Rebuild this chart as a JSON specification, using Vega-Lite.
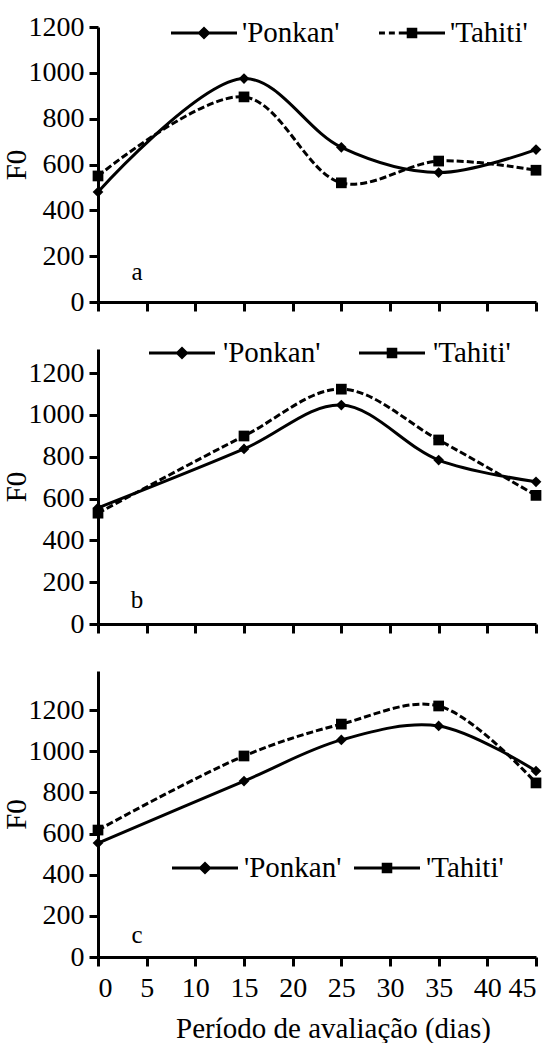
{
  "$schema": "https://vega.github.io/schema/vega-lite/v6.json",
  "padding": {"left": 2, "top": 0, "right": 0, "bottom": 0},
  "background": "white",
  "bounds": "flush",
  "spacing": 47,
  "resolve": {"scale": {"shape": "independent"}, "legend": {"shape": "independent"}},
  "datasets": {
    "d": [
      {"panel": "a", "variety": "'Ponkan'", "day": 0, "f0": 480},
      {"panel": "a", "variety": "'Ponkan'", "day": 15, "f0": 975},
      {"panel": "a", "variety": "'Ponkan'", "day": 25, "f0": 675},
      {"panel": "a", "variety": "'Ponkan'", "day": 35, "f0": 565},
      {"panel": "a", "variety": "'Ponkan'", "day": 45, "f0": 665},
      {"panel": "a", "variety": "'Tahiti'", "day": 0, "f0": 550},
      {"panel": "a", "variety": "'Tahiti'", "day": 15, "f0": 895},
      {"panel": "a", "variety": "'Tahiti'", "day": 25, "f0": 520},
      {"panel": "a", "variety": "'Tahiti'", "day": 35, "f0": 615},
      {"panel": "a", "variety": "'Tahiti'", "day": 45, "f0": 575},
      {"panel": "b", "variety": "'Ponkan'", "day": 0, "f0": 555},
      {"panel": "b", "variety": "'Ponkan'", "day": 15, "f0": 837},
      {"panel": "b", "variety": "'Ponkan'", "day": 25, "f0": 1047},
      {"panel": "b", "variety": "'Ponkan'", "day": 35, "f0": 784},
      {"panel": "b", "variety": "'Ponkan'", "day": 45, "f0": 680},
      {"panel": "b", "variety": "'Tahiti'", "day": 0, "f0": 530},
      {"panel": "b", "variety": "'Tahiti'", "day": 15, "f0": 899},
      {"panel": "b", "variety": "'Tahiti'", "day": 25, "f0": 1123},
      {"panel": "b", "variety": "'Tahiti'", "day": 35, "f0": 880},
      {"panel": "b", "variety": "'Tahiti'", "day": 45, "f0": 615},
      {"panel": "c", "variety": "'Ponkan'", "day": 0, "f0": 554},
      {"panel": "c", "variety": "'Ponkan'", "day": 15, "f0": 855},
      {"panel": "c", "variety": "'Ponkan'", "day": 25, "f0": 1055},
      {"panel": "c", "variety": "'Ponkan'", "day": 35, "f0": 1123},
      {"panel": "c", "variety": "'Ponkan'", "day": 45, "f0": 904},
      {"panel": "c", "variety": "'Tahiti'", "day": 0, "f0": 617},
      {"panel": "c", "variety": "'Tahiti'", "day": 15, "f0": 977},
      {"panel": "c", "variety": "'Tahiti'", "day": 25, "f0": 1132},
      {"panel": "c", "variety": "'Tahiti'", "day": 35, "f0": 1220},
      {"panel": "c", "variety": "'Tahiti'", "day": 45, "f0": 846}
    ],
    "lab": [
      {"panel": "a", "label": "a", "day": 4, "f0": 130},
      {"panel": "b", "label": "b", "day": 4, "f0": 115},
      {"panel": "c", "label": "c", "day": 4, "f0": 107}
    ]
  },
  "config": {
    "view": {"stroke": null},
    "font": "Liberation Serif",
    "axis": {
      "domainColor": "black", "domainWidth": 3, "tickColor": "black", "tickWidth": 3, "tickSize": 9,
      "grid": false, "labelFont": "Liberation Serif", "labelFontSize": 28, "labelColor": "black",
      "titleFont": "Liberation Serif", "titleFontSize": 29, "titleFontWeight": "normal", "titleColor": "black",
      "format": "d"
    },
    "legend": {
      "labelFont": "Liberation Serif", "labelFontSize": 29, "labelColor": "black",
      "symbolSize": 4356, "direction": "horizontal", "padding": 0, "orient": "none",
      "symbolFillColor": "black", "symbolStrokeWidth": 0, "symbolOpacity": 1
    }
  },
  "vconcat": [
    {
      "width": 438, "height": 275,
      "resolve": {"scale": {"shape": "independent"}},
      "layer": [
        {
          "data": {"name": "d"}, "transform": [{"filter": "datum.panel == 'a' && datum.variety == \"'Ponkan'\""}],
          "mark": {"type": "line", "interpolate": "catmull-rom", "color": "black", "strokeWidth": 3},
          "encoding": {
            "x": {"field": "day", "type": "quantitative", "scale": {"domain": [0, 45], "nice": false}, "axis": {"values": [0,5,10,15,20,25,30,35,40,45], "labels": false, "title": null}},
            "y": {"field": "f0", "type": "quantitative", "scale": {"domain": [0, 1200], "nice": false}, "axis": {"values": [0,200,400,600,800,1000,1200], "title": "F0", "labelPadding": 5, "titlePadding": -3}}
          }
        },
        {
          "data": {"name": "d"}, "transform": [{"filter": "datum.panel == 'a' && datum.variety == \"'Tahiti'\""}],
          "mark": {"type": "line", "interpolate": "catmull-rom", "color": "black", "strokeWidth": 3, "strokeDash": [7, 3]},
          "encoding": {"x": {"field": "day", "type": "quantitative"}, "y": {"field": "f0", "type": "quantitative"}}
        },
        {
          "data": {"name": "d"}, "transform": [{"filter": "datum.panel == 'a'"}],
          "mark": {"type": "point", "filled": true, "color": "black", "opacity": 1, "size": 115},
          "encoding": {
            "x": {"field": "day", "type": "quantitative"},
            "y": {"field": "f0", "type": "quantitative"},
            "shape": {"field": "variety", "type": "nominal", "scale": {"domain": ["'Ponkan'", "'Tahiti'"], "range": ["diamond", "square"]}, "legend": null}
          }
        },
        {
          "data": {"name": "d"}, "transform": [{"filter": "false"}],
          "mark": {"type": "point", "filled": true, "color": "black", "opacity": 1},
          "encoding": {
            "x": {"field": "day", "type": "quantitative"},
            "y": {"field": "f0", "type": "quantitative"},
            "shape": {"field": "variety", "type": "nominal",
              "scale": {"domain": ["'Ponkan'", "'Tahiti'"], "range": ["M-1,-0.045H1V0.045H-1Z M0,-0.2L0.2,0L0,0.2L-0.2,0Z", "M-1,-0.045H-0.82V0.045H-1Z M-0.7,-0.045H-0.52V0.045H-0.7Z M-0.4,-0.045H-0.2V0.045H-0.4Z M-0.2,-0.045H1V0.045H-0.2Z M-0.16,-0.16H0.16V0.16H-0.16Z"]},
              "legend": {"title": null, "orient": "none", "legendX": 73, "legendY": -27, "labelOffset": 5, "columnPadding": 39}}
          }
        },
        {
          "data": {"name": "lab"}, "transform": [{"filter": "datum.panel == 'a'"}],
          "mark": {"type": "text", "fontSize": 25, "color": "black"},
          "encoding": {"x": {"field": "day", "type": "quantitative"}, "y": {"field": "f0", "type": "quantitative"}, "text": {"field": "label"}}
        }
      ]
    },
    {
      "width": 438, "height": 275,
      "resolve": {"scale": {"shape": "independent"}},
      "layer": [
        {
          "data": {"name": "d"}, "transform": [{"filter": "datum.panel == 'b' && datum.variety == \"'Ponkan'\""}],
          "mark": {"type": "line", "interpolate": "catmull-rom", "color": "black", "strokeWidth": 3},
          "encoding": {
            "x": {"field": "day", "type": "quantitative", "scale": {"domain": [0, 45], "nice": false}, "axis": {"values": [0,5,10,15,20,25,30,35,40,45], "labels": false, "title": null}},
            "y": {"field": "f0", "type": "quantitative", "scale": {"domain": [0, 1315], "nice": false}, "axis": {"values": [0,200,400,600,800,1000,1200], "title": "F0", "labelPadding": 5, "titlePadding": -3}}
          }
        },
        {
          "data": {"name": "d"}, "transform": [{"filter": "datum.panel == 'b' && datum.variety == \"'Tahiti'\""}],
          "mark": {"type": "line", "interpolate": "catmull-rom", "color": "black", "strokeWidth": 3, "strokeDash": [7, 3]},
          "encoding": {"x": {"field": "day", "type": "quantitative"}, "y": {"field": "f0", "type": "quantitative"}}
        },
        {
          "data": {"name": "d"}, "transform": [{"filter": "datum.panel == 'b'"}],
          "mark": {"type": "point", "filled": true, "color": "black", "opacity": 1, "size": 115},
          "encoding": {
            "x": {"field": "day", "type": "quantitative"},
            "y": {"field": "f0", "type": "quantitative"},
            "shape": {"field": "variety", "type": "nominal", "scale": {"domain": ["'Ponkan'", "'Tahiti'"], "range": ["diamond", "square"]}, "legend": null}
          }
        },
        {
          "data": {"name": "d"}, "transform": [{"filter": "false"}],
          "mark": {"type": "point", "filled": true, "color": "black", "opacity": 1},
          "encoding": {
            "x": {"field": "day", "type": "quantitative"},
            "y": {"field": "f0", "type": "quantitative"},
            "shape": {"field": "variety", "type": "nominal",
              "scale": {"domain": ["'Ponkan'", "'Tahiti'"], "range": ["M-1,-0.045H1V0.045H-1Z M0,-0.2L0.2,0L0,0.2L-0.2,0Z", "M-1,-0.045H1V0.045H-1Z M-0.16,-0.16H0.16V0.16H-0.16Z"]},
              "legend": {"title": null, "orient": "none", "legendX": 51, "legendY": -29, "labelOffset": 8, "columnPadding": 38}}
          }
        },
        {
          "data": {"name": "lab"}, "transform": [{"filter": "datum.panel == 'b'"}],
          "mark": {"type": "text", "fontSize": 25, "color": "black"},
          "encoding": {"x": {"field": "day", "type": "quantitative"}, "y": {"field": "f0", "type": "quantitative"}, "text": {"field": "label"}}
        }
      ]
    },
    {
      "width": 438, "height": 286,
      "resolve": {"scale": {"shape": "independent"}},
      "layer": [
        {
          "data": {"name": "d"}, "transform": [{"filter": "datum.panel == 'c' && datum.variety == \"'Ponkan'\""}],
          "mark": {"type": "line", "interpolate": "catmull-rom", "color": "black", "strokeWidth": 3},
          "encoding": {
            "x": {"field": "day", "type": "quantitative", "scale": {"domain": [0, 45], "nice": false}, "axis": {"values": [0,5,10,15,20,25,30,35,40,45], "title": "Período de avaliação (dias)", "labelPadding": 8, "titlePadding": 12, "titleX": 235}},
            "y": {"field": "f0", "type": "quantitative", "scale": {"domain": [0, 1390], "nice": false}, "axis": {"values": [0,200,400,600,800,1000,1200], "title": "F0", "labelPadding": 5, "titlePadding": -3}}
          }
        },
        {
          "data": {"name": "d"}, "transform": [{"filter": "datum.panel == 'c' && datum.variety == \"'Tahiti'\""}],
          "mark": {"type": "line", "interpolate": "catmull-rom", "color": "black", "strokeWidth": 3, "strokeDash": [7, 3]},
          "encoding": {"x": {"field": "day", "type": "quantitative"}, "y": {"field": "f0", "type": "quantitative"}}
        },
        {
          "data": {"name": "d"}, "transform": [{"filter": "datum.panel == 'c'"}],
          "mark": {"type": "point", "filled": true, "color": "black", "opacity": 1, "size": 115},
          "encoding": {
            "x": {"field": "day", "type": "quantitative"},
            "y": {"field": "f0", "type": "quantitative"},
            "shape": {"field": "variety", "type": "nominal", "scale": {"domain": ["'Ponkan'", "'Tahiti'"], "range": ["diamond", "square"]}, "legend": null}
          }
        },
        {
          "data": {"name": "d"}, "transform": [{"filter": "false"}],
          "mark": {"type": "point", "filled": true, "color": "black", "opacity": 1},
          "encoding": {
            "x": {"field": "day", "type": "quantitative"},
            "y": {"field": "f0", "type": "quantitative"},
            "shape": {"field": "variety", "type": "nominal",
              "scale": {"domain": ["'Ponkan'", "'Tahiti'"], "range": ["M-1,-0.045H1V0.045H-1Z M0,-0.2L0.2,0L0,0.2L-0.2,0Z", "M-1,-0.045H1V0.045H-1Z M-0.16,-0.16H0.16V0.16H-0.16Z"]},
              "legend": {"title": null, "orient": "none", "legendX": 74, "legendY": 164, "labelOffset": 6, "columnPadding": 12}}
          }
        },
        {
          "data": {"name": "lab"}, "transform": [{"filter": "datum.panel == 'c'"}],
          "mark": {"type": "text", "fontSize": 25, "color": "black"},
          "encoding": {"x": {"field": "day", "type": "quantitative"}, "y": {"field": "f0", "type": "quantitative"}, "text": {"field": "label"}}
        }
      ]
    }
  ]
}
